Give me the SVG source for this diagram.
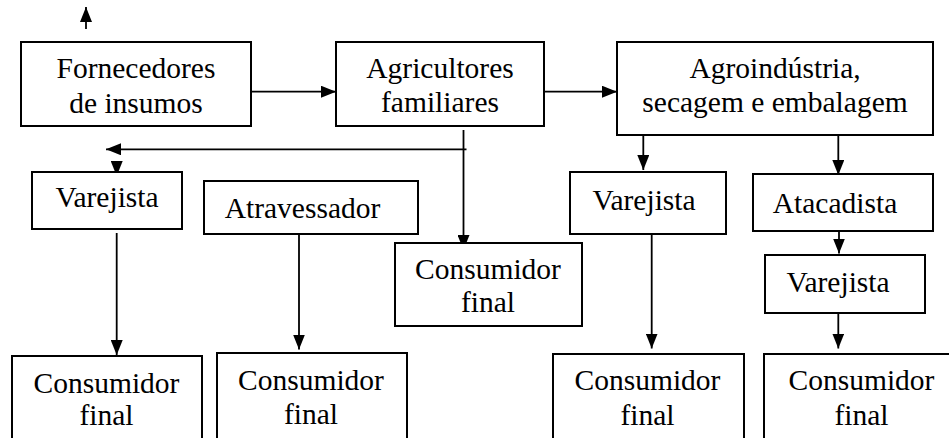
<svg xmlns="http://www.w3.org/2000/svg" width="949" height="438" viewBox="0 0 949 438">
<style>
.box{fill:#fff;stroke:#000;stroke-width:2}
.t{font-family:"Liberation Serif","Times New Roman",Times,serif;font-size:29.5px;fill:#000;text-anchor:middle}
.c{fill:none;stroke:#000;stroke-width:1.8}
</style>
<defs>
<marker id="ah" markerUnits="userSpaceOnUse" markerWidth="15" markerHeight="12" refX="15" refY="6" orient="auto">
<path d="M0,0 L15,6 L0,12 Z" fill="#000"/>
</marker>
</defs>
<rect width="949" height="438" fill="#fff"/>
<g id="connectors">
<line class="c" x1="86" y1="29" x2="86" y2="7" marker-end="url(#ah)"/>
<line class="c" x1="251" y1="91.7" x2="336" y2="91.7" marker-end="url(#ah)"/>
<line class="c" x1="544" y1="91.7" x2="617" y2="91.7" marker-end="url(#ah)"/>
<line class="c" x1="463.5" y1="130" x2="463.5" y2="250" marker-end="url(#ah)"/>
<line class="c" x1="466.5" y1="149.3" x2="106" y2="149.3" marker-end="url(#ah)"/>
<line class="c" x1="116.7" y1="162" x2="116.7" y2="176" marker-end="url(#ah)"/>
<line class="c" x1="116.7" y1="233" x2="116.7" y2="355" marker-end="url(#ah)"/>
<line class="c" x1="299" y1="235" x2="299" y2="349.5" marker-end="url(#ah)"/>
<line class="c" x1="643.3" y1="135" x2="643.3" y2="170" marker-end="url(#ah)"/>
<line class="c" x1="651.7" y1="234" x2="651.7" y2="348.5" marker-end="url(#ah)"/>
<line class="c" x1="838.3" y1="135" x2="838.3" y2="175" marker-end="url(#ah)"/>
<line class="c" x1="839" y1="231" x2="839" y2="253.5" marker-end="url(#ah)"/>
<line class="c" x1="838.3" y1="313" x2="838.3" y2="348.5" marker-end="url(#ah)"/>
</g>
<g id="fornecedores">
<rect class="box" x="21" y="42" width="230" height="84"/>
<text class="t" x="136" y="78">Fornecedores</text>
<text class="t" x="136" y="112.5">de insumos</text>
</g>
<g id="agricultores">
<rect class="box" x="336" y="42" width="208" height="84"/>
<text class="t" x="440" y="78">Agricultores</text>
<text class="t" x="440" y="112">familiares</text>
</g>
<g id="agroindustria">
<rect class="box" x="617" y="42" width="316" height="93"/>
<text class="t" x="775" y="78">Agroindústria,</text>
<text class="t" x="775" y="112">secagem e embalagem</text>
</g>
<g id="varejista1">
<rect class="box" x="32" y="172" width="150" height="57"/>
<text class="t" x="107" y="207">Varejista</text>
</g>
<g id="atravessador">
<rect class="box" x="204" y="181" width="214" height="53"/>
<text class="t" x="302.5" y="217.5">Atravessador</text>
</g>
<g id="consumidor-central">
<rect class="box" x="395" y="243" width="187" height="83"/>
<text class="t" x="488" y="278.5">Consumidor</text>
<text class="t" x="488" y="312">final</text>
</g>
<g id="varejista2">
<rect class="box" x="570" y="172" width="156" height="62"/>
<text class="t" x="644" y="210">Varejista</text>
</g>
<g id="atacadista">
<rect class="box" x="753" y="174" width="180" height="57"/>
<text class="t" x="835" y="212.5">Atacadista</text>
</g>
<g id="varejista3">
<rect class="box" x="765" y="255" width="160" height="58"/>
<text class="t" x="838" y="292">Varejista</text>
</g>
<g id="consumidor1">
<rect class="box" x="12" y="356" width="190" height="92"/>
<text class="t" x="106.5" y="393">Consumidor</text>
<text class="t" x="106.5" y="425">final</text>
</g>
<g id="consumidor2">
<rect class="box" x="217" y="353" width="190" height="95"/>
<text class="t" x="311" y="390">Consumidor</text>
<text class="t" x="311" y="423.5">final</text>
</g>
<g id="consumidor3">
<rect class="box" x="553" y="354" width="191" height="94"/>
<text class="t" x="647.5" y="390">Consumidor</text>
<text class="t" x="647.5" y="425">final</text>
</g>
<g id="consumidor4">
<rect class="box" x="764" y="354" width="200" height="94"/>
<text class="t" x="861.5" y="390">Consumidor</text>
<text class="t" x="861.5" y="425">final</text>
</g>
</svg>
